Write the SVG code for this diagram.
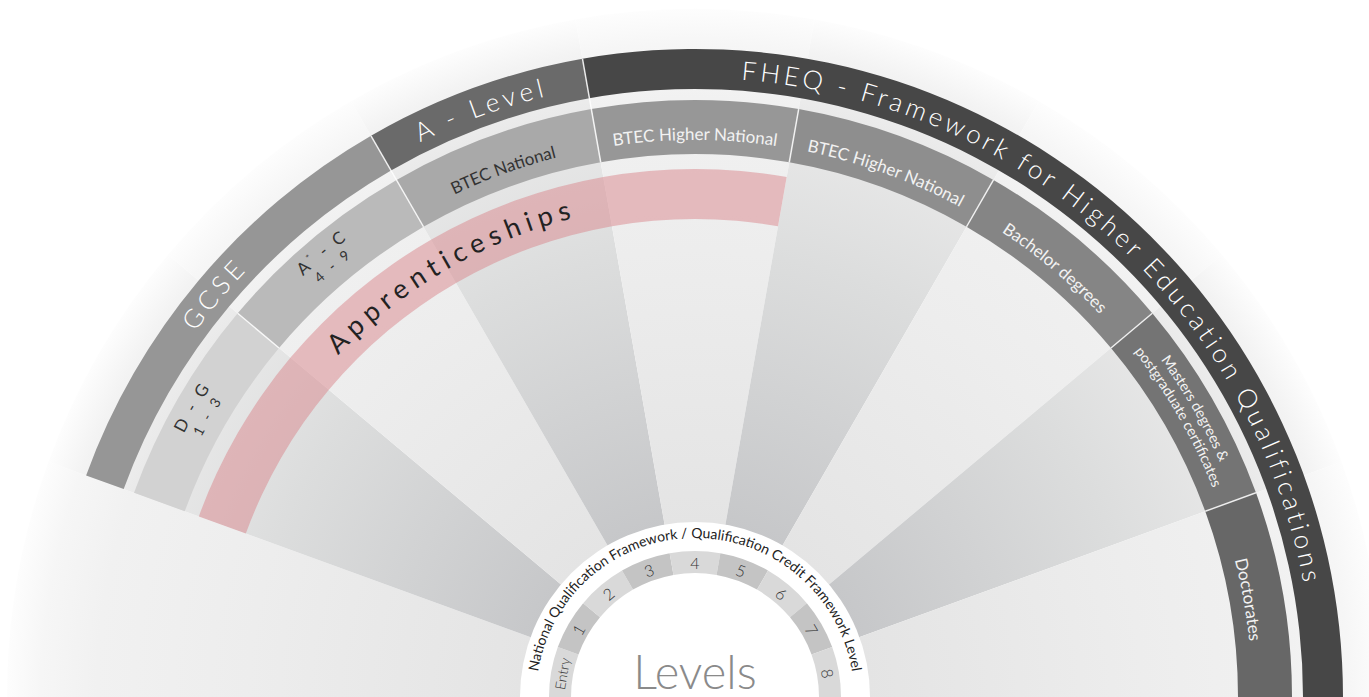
<svg xmlns="http://www.w3.org/2000/svg" width="1369" height="697" viewBox="0 0 1369 697">
<defs>
<radialGradient id="gDark" gradientUnits="userSpaceOnUse" cx="695" cy="697" r="688">
<stop offset="0.25" stop-color="#c6c7c9"/><stop offset="0.65" stop-color="#dcdddd"/><stop offset="0.87" stop-color="#eaeaea"/><stop offset="0.95" stop-color="#f3f3f3"/><stop offset="1" stop-color="#fdfdfd"/>
</radialGradient>
<radialGradient id="gLight" gradientUnits="userSpaceOnUse" cx="695" cy="697" r="688">
<stop offset="0.25" stop-color="#e4e4e4"/><stop offset="0.65" stop-color="#ededed"/><stop offset="0.87" stop-color="#f1f1f1"/><stop offset="0.95" stop-color="#f6f6f6"/><stop offset="1" stop-color="#fdfdfd"/>
</radialGradient>
<path id="tpGcse" d="M113.33,485.29 A619,619 0 0 1 385.5,160.93"/>
<path id="tpAlevel" d="M385.5,160.93 A619,619 0 0 1 587.51,87.40"/>
<path id="tpFheq" d="M587.51,87.40 A619,619 0 0 1 1314,697"/>
<path id="tpDG1" d="M154.76,500.37 A575,575 0 0 1 254.53,327.40"/>
<path id="tpDG2" d="M170.65,506.15 A558,558 0 0 1 267.55,338.32"/>
<path id="tpAC1" d="M254.53,327.40 A575,575 0 0 1 407.5,199.03"/>
<path id="tpAC2" d="M267.55,338.32 A558,558 0 0 1 416,212.76"/>
<path id="tpBN" d="M416.5,214.62 A557,557 0 0 1 598.28,148.46"/>
<path id="tpHN4" d="M598.28,148.46 A557,557 0 0 1 791.72,148.46"/>
<path id="tpHN5" d="M791.72,148.46 A557,557 0 0 1 973.5,214.62"/>
<path id="tpBach" d="M973.5,214.62 A557,557 0 0 1 1121.68,338.97"/>
<path id="tpMa1" d="M1135.47,327.40 A575,575 0 0 1 1235.32,500.34"/>
<path id="tpMa2" d="M1122.45,337.04 A558,558 0 0 1 1219.35,505.47"/>
<path id="tpDoc" d="M1218.41,506.49 A557,557 0 0 1 1252,697"/>
<path id="tpApp" d="M230.79,528.04 A494,494 0 0 1 780.78,210.50"/>
<path id="tpLev" d="M536,697 A159,159 0 0 1 854,697"/>
</defs>
<style>
text{font-family:Lato,'Open Sans','Liberation Sans',sans-serif;font-weight:400}
.bt{font-size:26px;fill:#fff;letter-spacing:4.5px;font-weight:300}
.rd{font-size:17px;fill:#333}
.rw{font-size:17px;fill:#f2f2f2}
.dv{stroke:#fff;stroke-width:1.5;opacity:0.85}
.lv{font-size:16px;fill:#333;text-anchor:middle;dominant-baseline:central;font-weight:300}
.segL{fill:#d9d9d9}
.segD{fill:#c4c4c4}
</style>
<rect width="1369" height="697" fill="#fff"/>
<g id="wedges">
<path d="M695,697 L7,697 A688,688 0 0 1 48.5,461.7 Z" fill="url(#gLight)"/>
<path d="M695,697 L48.5,461.7 A688,688 0 0 1 168,254.8 Z" fill="url(#gDark)"/>
<path d="M695,697 L168,254.8 A688,688 0 0 1 351,101.2 Z" fill="url(#gLight)"/>
<path d="M695,697 L351,101.2 A688,688 0 0 1 575.5,19.4 Z" fill="url(#gDark)"/>
<path d="M695,697 L575.5,19.4 A688,688 0 0 1 814.5,19.4 Z" fill="url(#gLight)"/>
<path d="M695,697 L814.5,19.4 A688,688 0 0 1 1039,101.2 Z" fill="url(#gDark)"/>
<path d="M695,697 L1039,101.2 A688,688 0 0 1 1222,254.8 Z" fill="url(#gLight)"/>
<path d="M695,697 L1222,254.8 A688,688 0 0 1 1341.5,461.7 Z" fill="url(#gDark)"/>
<path d="M695,697 L1341.5,461.7 A688,688 0 0 1 1383,697 Z" fill="url(#gLight)"/>
</g>
<g id="gcse">
<path d="M86.1,475.4 A648,648 0 0 1 371,135.8 L391,170.5 A608,608 0 0 0 123.7,489.0 Z" fill="#969696"/>
<text class="bt"><textPath href="#tpGcse" startOffset="50%" text-anchor="middle">GCSE</textPath></text>
</g>
<g id="a-level">
<path d="M371,135.8 A648,648 0 0 1 582.5,58.8 L589.4,98.2 A608,608 0 0 0 391,170.5 Z" fill="#6a6a6a"/>
<text class="bt" style="white-space:pre"><textPath href="#tpAlevel" startOffset="50%" text-anchor="middle">A - Level</textPath></text>
</g>
<g id="fheq">
<path d="M582.5,58.8 A648,648 0 0 1 1343,697 L1303,697 A608,608 0 0 0 589.4,98.2 Z" fill="#474747"/>
<text class="bt" style="white-space:pre;letter-spacing:3.8px"><textPath href="#tpFheq" startOffset="52%" text-anchor="middle">FHEQ - Framework for Higher Education Qualifications</textPath></text>
</g>
<g id="d-g">
<path d="M134,492.8 A597,597 0 0 1 237.67,313.25 L279.04,347.96 A543,543 0 0 0 184.75,511.28 Z" fill="#d2d2d2"/>
<text class="rd" style="letter-spacing:3px;font-size:17px"><textPath href="#tpDG1" startOffset="50%" text-anchor="middle">D - G</textPath></text>
<text class="rd" style="letter-spacing:3px;font-size:14px"><textPath href="#tpDG2" startOffset="50%" text-anchor="middle">1 - 3</textPath></text>
</g>
<g id="a-c">
<path d="M237.67,313.25 A597,597 0 0 1 396.5,179.98 L423.5,226.75 A543,543 0 0 0 279.04,347.96 Z" fill="#bababa"/>
<text class="rd" style="letter-spacing:3px;font-size:17px"><textPath href="#tpAC1" startOffset="50%" text-anchor="middle">A<tspan font-size="9" dy="-7">*</tspan><tspan dy="7"> - C</tspan></textPath></text>
<text class="rd" style="letter-spacing:3px;font-size:14px"><textPath href="#tpAC2" startOffset="50%" text-anchor="middle">4 - 9</textPath></text>
</g>
<g id="btec-national">
<path d="M396.5,179.98 A597,597 0 0 1 591.33,109.07 L600.71,162.25 A543,543 0 0 0 423.5,226.75 Z" fill="#a9a9a9"/>
<text class="rd"><textPath href="#tpBN" startOffset="50%" text-anchor="middle">BTEC National</textPath></text>
</g>
<g id="btec-hn-4">
<path d="M591.33,109.07 A597,597 0 0 1 798.67,109.07 L789.29,162.25 A543,543 0 0 0 600.71,162.25 Z" fill="#979797"/>
<text class="rw"><textPath href="#tpHN4" startOffset="50%" text-anchor="middle">BTEC Higher National</textPath></text>
</g>
<g id="btec-hn-5">
<path d="M798.67,109.07 A597,597 0 0 1 993.5,179.98 L966.5,226.75 A543,543 0 0 0 789.29,162.25 Z" fill="#8e8e8e"/>
<text class="rw"><textPath href="#tpHN5" startOffset="50%" text-anchor="middle">BTEC Higher National</textPath></text>
</g>
<g id="bachelor">
<path d="M993.5,179.98 A597,597 0 0 1 1152.33,313.25 L1110.96,347.96 A543,543 0 0 0 966.5,226.75 Z" fill="#858585"/>
<text class="rw"><textPath href="#tpBach" startOffset="50%" text-anchor="middle">Bachelor degrees</textPath></text>
</g>
<g id="masters">
<path d="M1152.33,313.25 A597,597 0 0 1 1256,492.8 L1205.25,511.28 A543,543 0 0 0 1110.96,347.96 Z" fill="#747474"/>
<text class="rw" style="font-size:14.5px"><textPath href="#tpMa1" startOffset="50%" text-anchor="middle">Masters degrees &amp;</textPath></text>
<text class="rw" style="font-size:14.5px"><textPath href="#tpMa2" startOffset="50%" text-anchor="middle">postgraduate certificates</textPath></text>
</g>
<g id="doctorates">
<path d="M1256,492.8 A597,597 0 0 1 1292,697 L1238,697 A543,543 0 0 0 1205.25,511.28 Z" fill="#676767"/>
<text class="rw"><textPath href="#tpDoc" startOffset="50%" text-anchor="middle">Doctorates</textPath></text>
</g>
<g id="apprenticeships">
<path d="M198.84,516.41 A528,528 0 0 1 786.69,177.02 L778,226.26 A478,478 0 0 0 245.83,533.51 Z" fill="#d9868c" fill-opacity="0.5"/>
<text style="font-size:27px;fill:#222;letter-spacing:6px"><textPath href="#tpApp" startOffset="50%" text-anchor="middle">Apprenticeships</textPath></text>
</g>
<g id="dividers">
<line class="dv" x1="371" y1="135.8" x2="423.5" y2="226.75"/>
<line class="dv" x1="582.5" y1="58.8" x2="600.71" y2="162.25"/>
<line class="dv" x1="237.67" y1="313.25" x2="279.04" y2="347.96"/>
<line class="dv" x1="798.67" y1="109.07" x2="789.29" y2="162.25"/>
<line class="dv" x1="993.5" y1="179.98" x2="966.5" y2="226.75"/>
<line class="dv" x1="1152.33" y1="313.25" x2="1110.96" y2="347.96"/>
<line class="dv" x1="1256" y1="492.8" x2="1205.25" y2="511.28"/>
</g>
<g id="levels">
<circle cx="695" cy="697" r="175" fill="#fff"/>
<path class="segL" d="M549,697 A146,146 0 0 1 557.81,647.06 L578.48,654.59 A124,124 0 0 0 571,697 Z"/>
<path class="segD" d="M557.81,647.06 A146,146 0 0 1 583.16,603.15 L600.01,617.29 A124,124 0 0 0 578.48,654.59 Z"/>
<path class="segL" d="M583.16,603.15 A146,146 0 0 1 622,570.56 L633,589.61 A124,124 0 0 0 600.01,617.29 Z"/>
<path class="segD" d="M622,570.56 A146,146 0 0 1 669.65,553.22 L673.47,574.88 A124,124 0 0 0 633,589.61 Z"/>
<path class="segL" d="M669.65,553.22 A146,146 0 0 1 720.35,553.22 L716.53,574.88 A124,124 0 0 0 673.47,574.88 Z"/>
<path class="segD" d="M720.35,553.22 A146,146 0 0 1 768,570.56 L757,589.61 A124,124 0 0 0 716.53,574.88 Z"/>
<path class="segL" d="M768,570.56 A146,146 0 0 1 806.84,603.15 L789.99,617.29 A124,124 0 0 0 757,589.61 Z"/>
<path class="segD" d="M806.84,603.15 A146,146 0 0 1 832.19,647.06 L811.52,654.59 A124,124 0 0 0 789.99,617.29 Z"/>
<path class="segL" d="M832.19,647.06 A146,146 0 0 1 841,697 L819,697 A124,124 0 0 0 811.52,654.59 Z"/>
<text class="lv" style="font-size:14px" transform="translate(562.05,673.56) rotate(-80)">Entry</text>
<text class="lv" transform="translate(578.09,629.5) rotate(-60)">1</text>
<text class="lv" transform="translate(608.22,593.58) rotate(-40)">2</text>
<text class="lv" transform="translate(648.83,570.14) rotate(-20)">3</text>
<text class="lv" transform="translate(695,562)">4</text>
<text class="lv" transform="translate(741.17,570.14) rotate(20)">5</text>
<text class="lv" transform="translate(781.78,593.58) rotate(40)">6</text>
<text class="lv" transform="translate(811.91,629.5) rotate(60)">7</text>
<text class="lv" transform="translate(827.95,673.56) rotate(80)">8</text>
<text style="font-size:14px;fill:#222"><textPath href="#tpLev" startOffset="50%" text-anchor="middle">National Qualification Framework / Qualification Credit Framework Level</textPath></text>
<text x="695" y="689" text-anchor="middle" style="font-size:47px;fill:#8a8a8a;font-weight:300">Levels</text>
</g>
</svg>
